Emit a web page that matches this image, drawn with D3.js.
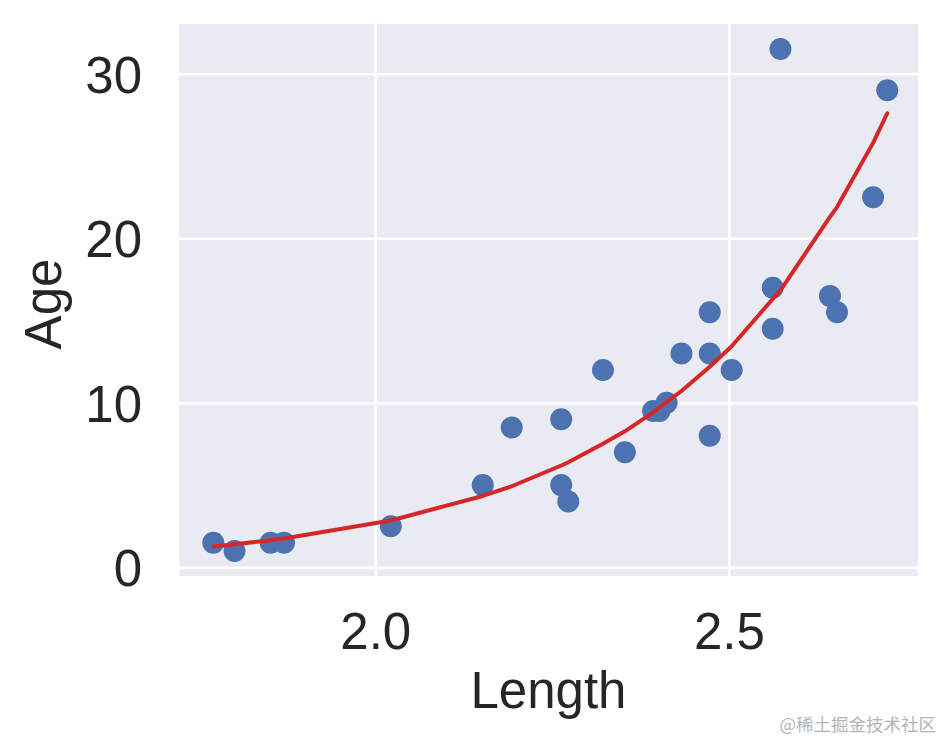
<!DOCTYPE html>
<html>
<head>
<meta charset="utf-8">
<script src="https://cdn.jsdelivr.net/npm/d3@7"></script>
<style>
    body { margin: 0; background: #fff; }
    svg text { font-family: "Liberation Sans", Arial, sans-serif; fill: #262626; }
</style>
</head>
<body>
<div id="chart"></div>
<script>
// scatter points
var lengths = [1.771, 1.801, 1.852, 1.871, 2.022, 2.152, 2.193, 2.263, 2.263, 2.273,
               2.322, 2.353, 2.393, 2.402, 2.412, 2.433, 2.473, 2.473, 2.473, 2.504,
               2.562, 2.562, 2.573, 2.643, 2.653, 2.704, 2.724];
var ages = [1.5, 1.0, 1.5, 1.5, 2.5, 5.0, 8.5, 9.0, 5.0, 4.0,
            12.0, 7.0, 9.5, 9.5, 10.0, 13.0, 15.5, 13.0, 8.0, 12.0,
            17.0, 14.5, 31.5, 16.5, 15.5, 22.5, 29.0];

// fitted curve (red line), value at each sorted length
var fitLengths = [1.771, 1.801, 1.852, 1.871, 2.022, 2.152, 2.193, 2.263, 2.273, 2.322, 2.353, 2.393,
                  2.402, 2.412, 2.433, 2.473, 2.504, 2.562, 2.573, 2.643, 2.653, 2.704, 2.724];
var fitAges = [1.27, 1.40, 1.65, 1.76, 2.85, 4.34, 4.93, 6.19, 6.39, 7.51, 8.27, 9.42,
               9.73, 10.04, 10.72, 12.19, 13.44, 16.31, 16.84, 21.3, 21.9, 25.8, 27.6];

var xTicks = [2.0, 2.5];
var yTicks = [0, 10, 20, 30];

var width = 945,
    height = 743;

var plot = { left: 179, right: 918, top: 24, bottom: 576 };

var svg = d3.select("#chart")
    .append("svg")
    .attr("width", width)
    .attr("height", height);

var x = d3.scaleLinear()
    .domain([1.7225, 2.7675])
    .range([plot.left, plot.right]);

var y = d3.scaleLinear()
    .domain([-0.525, 33.025])
    .range([plot.bottom, plot.top]);

svg.append("rect")
    .attr("x", plot.left)
    .attr("y", plot.top)
    .attr("width", plot.right - plot.left)
    .attr("height", plot.bottom - plot.top)
    .attr("fill", "#eaeaf2");

// grid
var xAxis = svg.append("g")
    .attr("transform", "translate(0," + plot.bottom + ")")
    .call(d3.axisBottom(x).tickValues(xTicks).tickFormat(d3.format(".1f"))
        .tickSize(-(plot.bottom - plot.top)).tickPadding(0));
var yAxis = svg.append("g")
    .attr("transform", "translate(" + plot.left + ",0)")
    .call(d3.axisLeft(y).tickValues(yTicks).tickFormat(d3.format("d"))
        .tickSize(-(plot.right - plot.left)).tickPadding(0));

[xAxis, yAxis].forEach(function(ax) {
    ax.select(".domain").remove();
    ax.selectAll(".tick line")
        .attr("stroke", "#fff")
        .attr("stroke-width", 2.6);
    ax.selectAll(".tick text")
        .attr("font-size", 51)
        .attr("fill", "#262626");
});

xAxis.selectAll(".tick text")
    .attr("y", 73)
    .attr("dy", null);
yAxis.selectAll(".tick text")
    .attr("x", -37)
    .attr("dy", "0.36em");

// data
svg.append("g")
    .selectAll("circle")
    .data(lengths)
    .enter()
    .append("circle")
    .attr("cx", function(d) { return x(d); })
    .attr("cy", function(d, i) { return y(ages[i]); })
    .attr("r", 11)
    .attr("fill", "#4c72b0");

var line = d3.line()
    .x(function(d) { return x(d); })
    .y(function(d, i) { return y(fitAges[i]); });

svg.append("path")
    .datum(fitLengths)
    .attr("d", line)
    .attr("fill", "none")
    .attr("stroke", "#d62728")
    .attr("stroke-width", 4)
    .attr("stroke-linejoin", "round")
    .attr("stroke-linecap", "round");

// labels
svg.append("text")
    .attr("x", (plot.left + plot.right) / 2)
    .attr("y", 708)
    .attr("text-anchor", "middle")
    .attr("font-size", 51)
    .text("Length");

svg.append("text")
    .attr("transform", "translate(61," + ((plot.top + plot.bottom) / 2 + 4) + ") rotate(-90)")
    .attr("text-anchor", "middle")
    .attr("font-size", 51)
    .text("Age");

svg.append("text")
    .attr("x", 936)
    .attr("y", 731)
    .attr("text-anchor", "end")
    .attr("font-size", 17.5)
    .style("font-family", "'Noto Sans CJK SC', sans-serif")
    .style("fill", "#b4b4b4")
    .text("@稀土掘金技术社区");
</script>
</body>
</html>
